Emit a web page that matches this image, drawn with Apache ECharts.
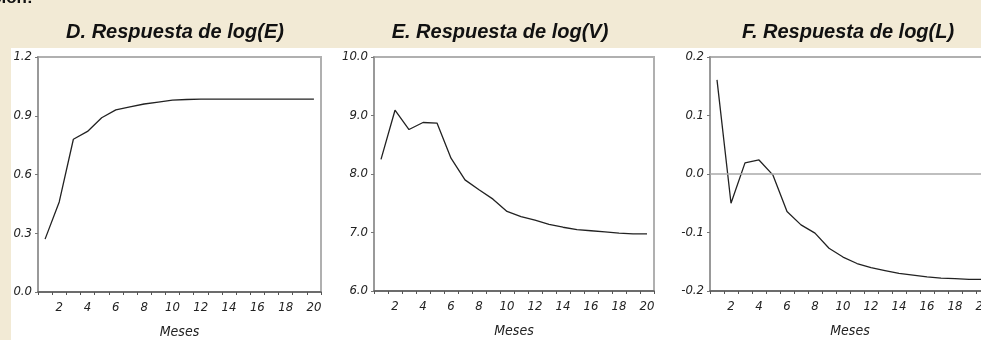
<!DOCTYPE html>
<html>
<head>
<meta charset="utf-8">
<script src="https://cdn.jsdelivr.net/npm/echarts@6/dist/echarts.min.js"></script>
<style>
html,body{margin:0;padding:0;background:#f2ead5;}
#c{width:981px;height:340px;}
</style>
</head>
<body>
<div id="c"></div>
<script>
const months = ['1','2','3','4','5','6','7','8','9','10','11','12','13','14','15','16','17','18','19','20'];
const respE = [0.27, 0.46, 0.78, 0.82, 0.89, 0.93, 0.945, 0.96, 0.97, 0.98, 0.983, 0.985, 0.985, 0.985, 0.985, 0.985, 0.985, 0.985, 0.985, 0.985];
const respV = [8.25, 9.09, 8.76, 8.88, 8.87, 8.27, 7.90, 7.73, 7.57, 7.36, 7.27, 7.21, 7.14, 7.09, 7.05, 7.03, 7.01, 6.99, 6.975, 6.975];
const respL = [0.161, -0.050, 0.019, 0.024, -0.002, -0.064, -0.087, -0.101, -0.127, -0.142, -0.153, -0.160, -0.165, -0.170, -0.173, -0.176, -0.178, -0.179, -0.180, -0.180];
const titles = ['D. Respuesta de log(E)', 'E. Respuesta de log(V)', 'F. Respuesta de log(L)'];
const xName = 'Meses';
const yRanges = [
  {min: 0, max: 1.2, interval: 0.3, digits: 1},
  {min: 6, max: 10, interval: 1, digits: 1},
  {min: -0.2, max: 0.2, interval: 0.1, digits: 1}
];
const seriesData = [respE, respV, respL];

const grids = [
  {left: 38, top: 57, width: 283, height: 235},
  {left: 374, top: 57, width: 280, height: 234},
  {left: 710, top: 57, width: 280, height: 234}
];
const titlePos = [170, 495, 843];

const labelFont = {fontFamily: '"Liberation Sans Narrow","DejaVu Sans Condensed","Liberation Sans",sans-serif', fontStyle: 'italic', fontWeight: 'normal', fontSize: 13, color: '#222'};

const chart = echarts.init(document.getElementById('c'), null, {renderer: 'canvas'});
const option = {
  backgroundColor: '#f2ead5',
  animation: false,
  graphic: [
    {type: 'rect', z: -10, shape: {x: 11, y: 48, width: 975, height: 300}, style: {fill: '#ffffff'}, silent: true},
    {type: 'text', left: -8, top: -10, style: {text: 'ción:', font: 'bold 17px "Liberation Sans", Arial, sans-serif', fill: '#111'}}
  ],
  title: titles.map((t, i) => ({
    text: t, left: titlePos[i], top: 17, textAlign: 'center',
    textStyle: {fontFamily: '"Liberation Sans", Arial, sans-serif', fontStyle: 'italic', fontWeight: 'bold', fontSize: 20, color: '#111'}
  })),
  grid: grids.map(g => Object.assign({show: true, borderColor: '#b0b0b0', borderWidth: 2, backgroundColor: '#fff', containLabel: false, outerBoundsMode: 'none'}, g)),
  xAxis: grids.map((g, i) => ({
    type: 'category', gridIndex: i, data: months, boundaryGap: true,
    name: xName, nameLocation: 'middle', nameGap: 33,
    nameTextStyle: Object.assign({}, labelFont, {fontSize: 14, color: '#222'}),
    axisLine: {show: true, onZero: false, lineStyle: {color: '#555', width: 1.5}},
    axisTick: {show: true, interval: 0, length: 3, inside: false, lineStyle: {color: '#555'}},
    axisLabel: Object.assign({}, labelFont, {interval: (idx) => idx % 2 === 1, margin: 9}),
    splitLine: {show: false}
  })),
  yAxis: grids.map((g, i) => ({
    type: 'value', gridIndex: i, min: yRanges[i].min, max: yRanges[i].max, interval: yRanges[i].interval,
    axisLine: {show: true, lineStyle: {color: '#999', width: 2}},
    axisTick: {show: true, length: 3, lineStyle: {color: '#777'}},
    axisLabel: Object.assign({}, labelFont, {margin: 6, formatter: (v) => (Math.abs(v) < 1e-9 ? 0 : v).toFixed(yRanges[i].digits)}),
    splitLine: {show: false}
  })),
  series: seriesData.map((d, i) => {
    const s = {
      type: 'line', xAxisIndex: i, yAxisIndex: i, data: d, symbol: 'none', smooth: false,
      lineStyle: {color: '#222', width: 1.3}
    };
    if (i === 2) {
      s.markLine = {silent: true, symbol: 'none', label: {show: false}, lineStyle: {color: '#aaa', width: 1.5, type: 'solid'}, data: [{yAxis: 0}]};
    }
    return s;
  })
};
chart.setOption(option);
</script>
</body>
</html>
